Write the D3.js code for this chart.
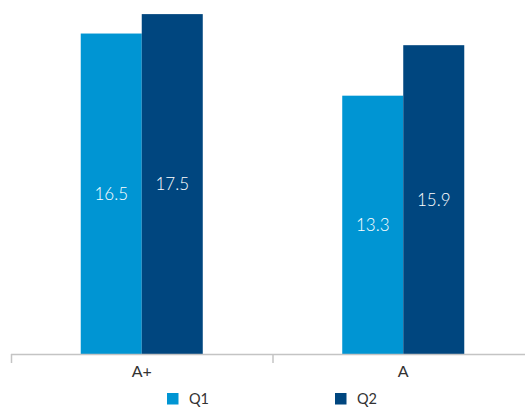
<!DOCTYPE html>
<html><head><meta charset="utf-8">
<script src="https://cdn.jsdelivr.net/npm/d3@7"></script>
<style>html,body{margin:0;padding:0;background:#fff;overflow:hidden}svg{display:block}</style>
</head><body>
<script>
const categories = ["A+", "A"];
const seriesNames = ["Q1", "Q2"];
const q1Values = [16.5, 13.3];
const q2Values = [17.5, 15.9];
const colors = ["#0095d3", "#00467f"];

const W = 525, H = 407;
const svg = d3.select("body").append("svg").attr("width", W).attr("height", H);
const font = "Lato, 'Open Sans', sans-serif";

const x = d3.scaleBand().domain(categories).range([11, 534]).paddingInner(0).paddingOuter(0);
const x1 = d3.scaleBand().domain(seriesNames).range([0, x.bandwidth()]).paddingInner(0).paddingOuter(1.143);
const y = d3.scaleLinear().domain([0, 18]).range([354, 4.4]);

const data = categories.map((c, i) => ({cat: c, vals: [q1Values[i], q2Values[i]]}));

const g = svg.append("g");
const groups = g.selectAll("g.grp").data(data).join("g")
  .attr("transform", d => `translate(${x(d.cat)},0)`);
groups.selectAll("rect").data(d => d.vals.map((v, k) => ({s: seriesNames[k], v, k})))
  .join("rect")
  .attr("x", d => x1(d.s)).attr("width", x1.bandwidth())
  .attr("y", d => y(d.v)).attr("height", d => y(0) - y(d.v))
  .attr("fill", d => colors[d.k]);
groups.selectAll("text.val").data(d => d.vals.map((v, k) => ({s: seriesNames[k], v, k})))
  .join("text").attr("class", "val")
  .attr("x", d => x1(d.s) + x1.bandwidth() / 2)
  .attr("y", d => (y(d.v) + y(0)) / 2)
  .attr("dy", "0.36em")
  .attr("text-anchor", "middle")
  .attr("fill", "#fff").attr("font-family", font).attr("font-weight", 300).attr("font-size", 17)
  .text(d => d.v.toFixed(1));

// axis
const axis = svg.append("g").attr("transform", "translate(0,354)")
  .call(d3.axisBottom(x).tickSize(0).tickSizeOuter(0).tickPadding(0));
axis.select(".domain").remove();
axis.selectAll("text").attr("font-family", font).attr("font-size", 16).attr("fill", "#333")
  .attr("y", 23).attr("dy", 0);
axis.append("line").attr("x1", 11).attr("x2", W).attr("y1", 0.5).attr("y2", 0.5)
  .attr("stroke", "#c4c4c4").attr("stroke-width", 1.5);
const boundaries = [x.range()[0]].concat(categories.slice(1).map(c => x(c)));
axis.selectAll("line.sep").data(boundaries).join("line").attr("class", "sep")
  .attr("x1", d => d + 0.5).attr("x2", d => d + 0.5).attr("y1", 0).attr("y2", 9)
  .attr("stroke", "#c4c4c4").attr("stroke-width", 1.5);

// legend
const legendX = [167, 335];
const leg = svg.append("g").selectAll("g").data(seriesNames).join("g")
  .attr("transform", (d, i) => `translate(${legendX[i]},393)`);
leg.append("rect").attr("width", 11.5).attr("height", 11.5).attr("fill", (d, i) => colors[i]);
leg.append("text").attr("x", 22).attr("y", 10.5).attr("font-family", font).attr("font-size", 14.5)
  .attr("fill", "#333").text(d => d);
</script>
</body></html>
